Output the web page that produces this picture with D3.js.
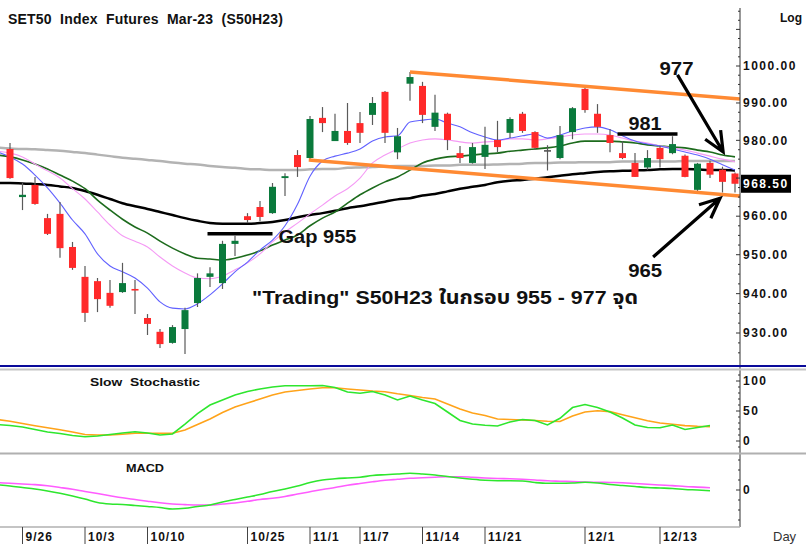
<!DOCTYPE html>
<html><head><meta charset="utf-8">
<script src="https://cdn.jsdelivr.net/npm/d3@7"></script>
<style>
body{margin:0;background:#fff;}
svg{display:block;font-family:"Liberation Sans",Arial,"Noto Sans Thai","Noto Sans",sans-serif;}
.pre{white-space:pre;}
</style></head><body>
<svg id="chart" width="806" height="544"></svg>
<script>
// ---------- DATA ----------
const dates = ["9/22","9/23","9/26","9/27","9/28","9/29","9/30","10/3","10/4","10/5","10/6","10/7","10/10","10/11","10/12",
"10/17","10/18","10/19","10/20","10/21","10/25","10/26","10/27","10/28","10/31","11/1","11/2","11/3","11/4",
"11/7","11/8","11/9","11/10","11/11","11/14","11/15","11/16","11/17","11/18","11/21","11/22","11/23","11/24","11/25",
"11/28","11/29","11/30","12/1","12/2","12/6","12/7","12/8","12/9","12/13","12/14","12/15","12/16","12/19","12/20","12/21"];
const tickDates = ["9/26","10/3","10/10","10/25","11/1","11/7","11/14","11/21","12/1","12/13"];

// candles from 9/23 to 12/21
const open  = [977.7,965.0,968.2,959.5,960.6,952.0,944.3,943.2,940.2,940.4,941.2,933.8,930.3,927.5,931.0,937.6,944.3,942.7,952.8,960.0,962.4,960.8,970.0,976.1,975.3,986.0,979.8,982.5,984.6,986.8,993.0,976.8,995.2,994.6,983.6,987.1,976.6,974.0,975.6,980.1,982.0,987.1,982.2,977.4,975.3,982.2,993.8,987.1,981.4,976.6,974.0,972.8,978.0,976.6,975.9,966.9,974.0,972.2,971.2];
const high  = [979.3,968.7,970.3,960.6,963.7,953.3,947.1,944.0,943.5,947.9,943.5,934.8,931.0,932.0,936.4,945.2,946.8,953.6,954.9,960.8,964.0,968.7,971.3,977.4,986.5,988.9,987.1,990.0,987.6,991.6,993.2,983.3,998.4,995.7,992.2,987.4,978.5,979.3,983.6,985.2,986.2,987.6,982.4,978.7,983.8,988.9,994.1,989.7,983.0,979.8,976.6,977.4,978.5,981.1,976.2,974.0,974.6,973.0,971.5];
const low   = [969.8,961.6,963.0,955.1,949.2,946.1,932.8,935.3,936.4,940.2,934.8,929.5,926.2,927.3,924.7,936.6,941.7,941.2,949.7,958.2,958.7,960.6,965.3,970.3,975.0,982.2,979.8,978.8,979.3,984.1,979.3,975.0,990.6,984.6,982.5,977.4,974.0,973.8,972.4,976.8,980.6,982.0,977.4,972.0,975.0,980.3,987.4,982.0,976.8,975.0,970.3,972.2,972.8,976.3,970.2,966.6,970.0,966.2,966.2];
const close = [970.0,965.6,963.2,955.4,951.7,946.6,935.1,938.6,936.9,942.7,940.9,932.3,927.2,931.5,935.8,944.0,945.2,952.8,953.6,959.0,959.8,967.7,970.5,972.9,985.7,984.6,982.5,979.3,982.0,990.0,982.0,981.1,997.0,986.8,987.4,980.1,975.3,978.2,978.8,978.2,985.7,982.5,978.0,977.4,981.4,988.6,988.1,983.6,979.3,975.3,970.3,975.3,975.0,979.0,970.3,973.8,970.9,969.0,968.5];

// moving averages (from 9/22)
const maBlue  = [976.9,975.6,973.7,970.8,967.4,963.4,959.0,955.4,950.2,947.1,945.6,944.0,941.4,937.9,936.3,936.1,937.4,939.7,942.5,945.6,948.1,951.2,953.8,957.5,963.1,970.5,974.5,975.8,976.6,977.7,979.8,980.9,981.2,984.9,985.4,985.7,984.6,983.6,982.0,980.9,980.1,980.6,981.2,981.7,980.6,981.4,982.5,983.3,983.6,982.8,981.2,979.8,979.0,978.5,977.7,976.9,976.1,975.0,973.5,972.1];
const maPink  = [977.1,976.6,975.6,973.7,971.9,970.0,967.2,964.5,961.1,957.7,954.9,953.5,952.0,949.4,947.1,945.3,944.0,943.8,944.5,946.1,947.9,950.2,953.3,955.9,958.2,960.6,962.9,965.3,967.2,970.0,974.0,976.1,977.7,979.3,980.1,980.4,980.1,979.6,979.3,979.6,979.8,980.4,980.4,980.1,980.4,980.9,981.4,981.7,981.7,981.4,980.6,979.8,979.3,978.5,978.0,977.4,976.6,975.8,975.0,974.3];
const maGreen = [976.1,975.6,974.8,973.7,972.4,970.8,969.2,967.2,964.2,961.6,959.2,957.2,955.6,953.5,951.7,950.2,949.1,948.9,948.6,949.1,949.9,951.0,952.5,953.8,955.1,957.5,959.5,961.1,963.4,965.6,967.4,969.0,970.3,972.1,974.0,975.0,975.6,975.8,976.1,976.4,976.6,977.1,977.4,977.7,978.0,978.5,979.3,979.8,979.8,979.8,979.6,979.3,978.8,978.5,978.2,978.0,977.4,976.9,976.1,975.6];
const maBlack = [968.7,968.7,968.6,968.4,968.2,967.8,967.4,966.6,965.6,964.5,963.4,962.6,961.9,961.1,960.3,959.5,958.8,958.2,958.0,958.0,958.0,958.2,958.5,959.0,959.7,960.3,960.8,961.4,962.1,962.6,963.2,963.8,964.4,964.7,965.4,965.8,966.5,967.2,967.7,968.2,968.9,969.3,969.5,969.8,970.2,970.6,971.0,971.3,971.6,971.8,971.9,972.0,972.1,972.3,972.4,972.4,972.3,972.1,972.1,972.0];
const maGray  = [978.1,977.8,977.7,977.6,977.4,977.2,976.9,976.6,976.2,975.8,975.4,975.1,974.8,974.5,974.1,973.8,973.6,973.2,972.9,972.7,972.4,972.3,972.1,972.1,972.1,972.3,972.4,972.4,972.7,972.8,972.9,973.1,973.2,973.2,973.2,973.3,973.3,973.5,973.5,973.5,973.6,973.7,973.8,974.0,974.0,974.1,974.1,974.2,974.2,974.2,974.4,974.4,974.4,974.4,974.4,974.5,974.5,974.5,974.5,974.5];

// slow stochastic (from 9/22 to 12/19)
const stochK = [27.5,25.8,23.3,19.2,15,12.5,9.2,7.2,8.3,10.8,13.3,15.5,13.3,10,11.7,28.3,45.8,60,68.3,76.7,82.5,86.7,90,92.2,92.2,92.2,92.5,89.2,81.7,79.5,82.5,76.7,68.3,75,68.3,62.5,48.3,34.2,28.3,26.2,25,31.7,35.8,34.2,26.7,37.8,55.8,60.8,55.8,48.3,38.3,26.7,22.5,22.2,26.7,19.2,22.5,25.8];
const stochD = [35.7,32.8,29.2,25.5,22.2,18.8,15,10.8,10,10,11.3,12.8,12.8,12.8,12.8,18.3,27.5,36.7,47.5,56.7,63.3,70,76.7,81.7,84.2,86.7,88.8,88.7,86.7,85,83.3,82.2,78.7,75.7,72.5,70,61.7,53.3,46.7,42.5,36.7,35.8,35,34.2,33,32.5,41.7,48.3,50.3,49,43.8,38.7,33.7,30,27.8,25.7,24.5,23.8];
const stochTicks = [0,50,100];

// MACD (from 9/22 to 12/19)
const macdLine = [2.6,2.0,1.25,0.5,-0.5,-1.65,-3.0,-4.5,-6.25,-7.0,-7.25,-7.75,-8.25,-8.75,-9.5,-9.15,-8.25,-7.5,-6.0,-4.75,-3.5,-2.25,-0.75,0.5,2.0,3.75,5.0,5.6,6.0,6.35,7.25,7.65,8.0,8.35,8.0,7.5,6.75,6.0,5.35,4.85,4.65,4.65,4.5,3.75,3.35,3.35,3.5,3.85,3.5,2.75,2.25,1.75,1.25,1.0,0.75,0.25,0,-0.35];
const macdSignal = [3.7,3.35,3.0,2.7,2.1,1.25,0.35,-0.75,-1.75,-2.85,-3.9,-4.75,-5.6,-6.4,-7.0,-7.3,-7.5,-7.5,-7.0,-6.5,-5.65,-4.75,-4.15,-3.25,-2.0,-0.9,0.25,1.25,2.35,3.25,4.1,4.85,5.35,5.85,6.1,6.4,6.65,6.65,6.35,6.0,5.75,5.6,5.35,5.0,4.6,4.4,4.2,4.0,3.85,3.75,3.65,3.25,2.85,2.5,2.2,1.75,1.45,1.15];

const priceLabelTicks = [930,940,950,960,980,990,1000];
const lastPrice = 968.5;

// annotations (date-index, price)
const channelUpper = [[33,998.4],[59.4,991.1]];
const channelLower = [[24.9,974.8],[59.4,965.3]];
const gapLine = [[16.8,955.4],[22.0,955.4]];
const resLine = [[49.6,981.7],[54.4,981.7]];
const arrow977 = [[54.4,997.6],[58.05,976.9]];
const arrow965 = [[52.45,949.4],[57.8,964.7]];

// ---------- DRAW ----------
const svg = d3.select("#chart");
const x = d3.scaleLinear().domain([0, dates.length-1]).range([-2.5, 735]);
const y = d3.scaleLog().domain([930,1000]).range([333,66]);
const yS = d3.scaleLinear().domain([0,100]).range([441,381]);
const yM = d3.scaleLinear().domain([-10,10]).range([510,470]);
const AX = 740;

const defs = svg.append("defs");
defs.append("clipPath").attr("id","cMain").append("rect").attr("x",0).attr("y",0).attr("width",AX).attr("height",365);
defs.append("clipPath").attr("id","cLow").append("rect").attr("x",0).attr("y",370).attr("width",AX).attr("height",157);

// title
svg.append("text").attr("class","pre").attr("x",8).attr("y",24).attr("font-size",14).attr("font-weight","bold")
  .attr("textLength",275).attr("lengthAdjust","spacing").attr("fill","#111")
  .text("SET50  Index  Futures  Mar-23  (S50H23)");
svg.append("text").attr("x",780).attr("y",22).attr("font-size",12).attr("font-weight","bold").attr("fill","#111").text("Log");

const main = svg.append("g").attr("clip-path","url(#cMain)");
const line = arr => d3.line().x((d,i)=>x(i)).y(d=>y(d)).curve(d3.curveMonotoneX)(arr);
[[maGray,"#b3b3b3",2.5],[maBlack,"#000",2.5],[maGreen,"#1d6b1d",1.6],[maPink,"#f59af5",1.1],[maBlue,"#6161ff",1.1]]
 .forEach(([a,c,w])=>main.append("path").attr("d",line(a)).attr("fill","none").attr("stroke",c).attr("stroke-width",w));

// candles
const cd = close.map((c,i)=>({i:i+1,o:open[i],h:high[i],l:low[i],c:c}));
const cg = main.append("g");
cg.selectAll("line").data(cd).join("line")
  .attr("x1",d=>x(d.i)).attr("x2",d=>x(d.i)).attr("y1",d=>y(d.h)).attr("y2",d=>y(d.l))
  .attr("stroke","#5a5a5a").attr("stroke-width",1.2);
cg.selectAll("rect").data(cd).join("rect")
  .attr("x",d=>x(d.i)-3.5).attr("width",7)
  .attr("y",d=>Math.min(y(d.o),y(d.c)))
  .attr("height",d=>Math.max(1.6,Math.abs(y(d.o)-y(d.c))))
  .attr("fill",d=>d.c>d.o?"#0a7a3c":(d.c<d.o?"#ff2a2a":"#555"));

// channel & annotations
const pl = pts => d3.line().x(d=>x(d[0])).y(d=>y(d[1]))(pts);
[channelUpper,channelLower].forEach(p=>main.append("path").attr("d",pl(p)).attr("stroke","#ff8a33").attr("stroke-width",3.5).attr("fill","none"));
[gapLine,resLine].forEach(p=>main.append("path").attr("d",pl(p)).attr("stroke","#000").attr("stroke-width",3.5).attr("fill","none"));
function arrow(p){
  const [a,b]=p; const x1=x(a[0]),y1=y(a[1]),x2=x(b[0]),y2=y(b[1]);
  const ang=Math.atan2(y2-y1,x2-x1), L=22, s=0.42;
  const p1=[x2-L*Math.cos(ang-s),y2-L*Math.sin(ang-s)], p2=[x2-L*Math.cos(ang+s),y2-L*Math.sin(ang+s)];
  main.append("path").attr("d",`M${x1},${y1}L${x2},${y2}M${p1[0]},${p1[1]}L${x2},${y2}L${p2[0]},${p2[1]}`)
   .attr("stroke","#000").attr("stroke-width",3.2).attr("fill","none").attr("stroke-linejoin","miter");
}
arrow(arrow977); arrow(arrow965);

const ann = (t,xx,yy,len) => { const e=svg.append("text").attr("x",xx).attr("y",yy).attr("font-size",19).attr("font-weight","bold").attr("fill","#111").text(t); if(len) e.attr("textLength",len).attr("lengthAdjust","spacingAndGlyphs"); };
ann("Gap 955", x(gapLine[1][0])+6, y(953.0), 78);
ann("981", x(resLine[0][0])+11, y(982.8), 33);
ann("977", x(arrow977[0][0])-18, y(997.5), 34);
ann("965", x(arrow965[0][0])-25, y(944.3), 34);
ann('"Trading" S50H23 ในกรอบ 955 - 977 จุด', 252, y(937.4), 386);

// right axis main
const ax = svg.append("g");
ax.append("line").attr("x1",AX).attr("x2",AX).attr("y1",8).attr("y2",527).attr("stroke","#333").attr("stroke-width",1);
d3.range(925,1016,2.5).forEach(v=>{ const yy=y(v); if(yy>8&&yy<364) ax.append("line").attr("x1",AX-(v%10===0?4:2)).attr("x2",AX).attr("y1",yy).attr("y2",yy).attr("stroke","#333"); });
ax.selectAll("text.p").data(priceLabelTicks).join("text").attr("class","p")
  .attr("x",AX+3).attr("y",d=>y(d)).attr("dy","0.35em").attr("font-size",12).attr("font-weight","bold")
  .attr("letter-spacing",1.5).attr("fill","#111").text(d=>d3.format(".2f")(d));
ax.append("rect").attr("x",AX+1).attr("y",y(lastPrice)-9).attr("width",50).attr("height",18).attr("fill","#000");
ax.append("text").attr("x",AX+3).attr("y",y(lastPrice)).attr("dy","0.36em").attr("font-size",12).attr("font-weight","bold")
  .attr("letter-spacing",1.5).attr("fill","#fff").text(d3.format(".2f")(lastPrice));

// panel separators
svg.append("line").attr("x1",0).attr("x2",806).attr("y1",366).attr("y2",366).attr("stroke","#0a0a9a").attr("stroke-width",2);
svg.append("line").attr("x1",0).attr("x2",806).attr("y1",369.5).attr("y2",369.5).attr("stroke","#c4c4c4").attr("stroke-width",2);
svg.append("line").attr("x1",0).attr("x2",806).attr("y1",453.5).attr("y2",453.5).attr("stroke","#b0b0b0").attr("stroke-width",2);
svg.append("line").attr("x1",0).attr("x2",AX).attr("y1",527).attr("y2",527).attr("stroke","#b0b0b0").attr("stroke-width",1.5);

// stochastic
const lowG = svg.append("g").attr("clip-path","url(#cLow)");
const sl = a => d3.line().x((d,i)=>x(i)).y(d=>yS(d))(a);
lowG.append("path").attr("d",sl(stochD)).attr("fill","none").attr("stroke","#ffa31a").attr("stroke-width",1.6);
lowG.append("path").attr("d",sl(stochK)).attr("fill","none").attr("stroke","#2ee62e").attr("stroke-width",1.6);
svg.append("text").attr("class","pre").attr("x",90).attr("y",386).attr("font-size",11).attr("font-weight","bold").attr("fill","#111")
  .attr("textLength",110).attr("lengthAdjust","spacingAndGlyphs").text("Slow  Stochastic");
d3.range(-10,121,10).forEach(v=>{const yy=yS(v); if(yy>372&&yy<452) svg.append("line").attr("x1",AX-(v%50===0?4:2)).attr("x2",AX).attr("y1",yy).attr("y2",yy).attr("stroke","#333");});
svg.selectAll("text.s").data(stochTicks).join("text").attr("class","s").attr("x",AX+3).attr("y",d=>yS(d)).attr("dy","0.35em")
  .attr("font-size",12).attr("font-weight","bold").attr("letter-spacing",1.5).attr("fill","#111").text(d=>d);

// MACD
const ml = a => d3.line().x((d,i)=>x(i)).y(d=>yM(d)).curve(d3.curveMonotoneX)(a);
lowG.append("path").attr("d",ml(macdSignal)).attr("fill","none").attr("stroke","#ff5cff").attr("stroke-width",1.6);
lowG.append("path").attr("d",ml(macdLine)).attr("fill","none").attr("stroke","#2ee62e").attr("stroke-width",1.6);
svg.append("text").attr("x",126).attr("y",472).attr("font-size",11).attr("font-weight","bold").attr("fill","#111")
  .attr("textLength",38).attr("lengthAdjust","spacingAndGlyphs").text("MACD");
d3.range(-15,16,5).forEach(v=>{const yy=yM(v); if(yy>456&&yy<526) svg.append("line").attr("x1",AX-(v===0?4:2)).attr("x2",AX).attr("y1",yy).attr("y2",yy).attr("stroke","#333");});
svg.append("text").attr("x",AX+3).attr("y",yM(0)).attr("dy","0.35em").attr("font-size",12).attr("font-weight","bold").attr("fill","#111").text("0");

// x axis
const xt = svg.append("g");
tickDates.forEach(t=>{ const i=dates.indexOf(t), xx=x(i);
  xt.append("line").attr("x1",xx).attr("x2",xx).attr("y1",527).attr("y2",544).attr("stroke","#444");
  xt.append("text").attr("x",xx+3).attr("y",541).attr("font-size",12).attr("font-weight","bold").attr("letter-spacing",1).attr("fill","#111").text(t);
});
svg.append("text").attr("x",773).attr("y",541).attr("font-size",13).attr("fill","#333").text("Day");
</script>
</body></html>
